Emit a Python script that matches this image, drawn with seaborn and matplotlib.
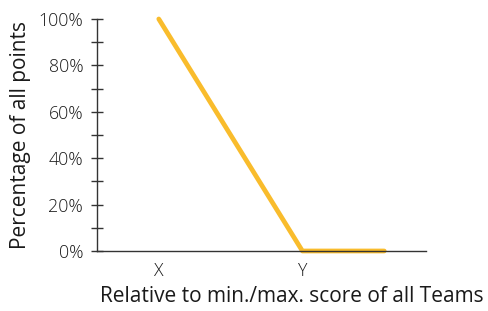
import matplotlib
matplotlib.use("Agg")
import matplotlib.pyplot as plt
import seaborn as sns
import pandas as pd
from matplotlib.ticker import FuncFormatter, MultipleLocator

positions = [1.0, 2.0, 2.57]
percent = [100, 0, 0]
tick_pos = [1, 2]
tick_labels = ["X", "Y"]

sns.set_theme(style="white")
plt.rcParams['font.family'] = ['Open Sans', 'DejaVu Sans']
plt.rcParams['font.weight'] = 'light'

df = pd.DataFrame({"pos": positions, "pct": percent})

fig = plt.figure(figsize=(4.88, 3.11), dpi=100)
ax = fig.add_axes([0.1988, 0.193, 0.674, 0.746])
sns.lineplot(data=df, x="pos", y="pct", ax=ax, color="#F9BC2C", linewidth=3.4,
             solid_capstyle="round", solid_joinstyle="round")
for ln in ax.lines:
    ln.set_clip_on(False)
ax.set_xlim(0.57, 2.86)
ax.set_ylim(0, 100)
ax.yaxis.set_major_locator(MultipleLocator(20))
ax.yaxis.set_minor_locator(MultipleLocator(10))
ax.yaxis.set_major_formatter(FuncFormatter(lambda v, p: f"{int(v)}%"))
ax.set_xticks(tick_pos)
ax.set_xticklabels(tick_labels)
for s in ["top", "right"]:
    ax.spines[s].set_visible(False)
for s in ["left", "bottom"]:
    ax.spines[s].set_color("#333333")
    ax.spines[s].set_linewidth(1.0)
ax.tick_params(axis="y", which="both", direction="inout", length=8, width=1,
               color="#333333", left=True, labelsize=12.8, labelcolor="#1a1a1a", pad=6)
ax.tick_params(axis="x", length=0, labelsize=12.8, labelcolor="#1a1a1a", pad=8)
ax.set_xlabel("Relative to min./max. score of all Teams", fontsize=15, color="#1a1a1a",
              labelpad=4, x=0.593)
ax.set_ylabel("Percentage of all points", fontsize=15, color="#1a1a1a", labelpad=5)
ax.grid(False)
fig.savefig("out.png", dpi=100)
